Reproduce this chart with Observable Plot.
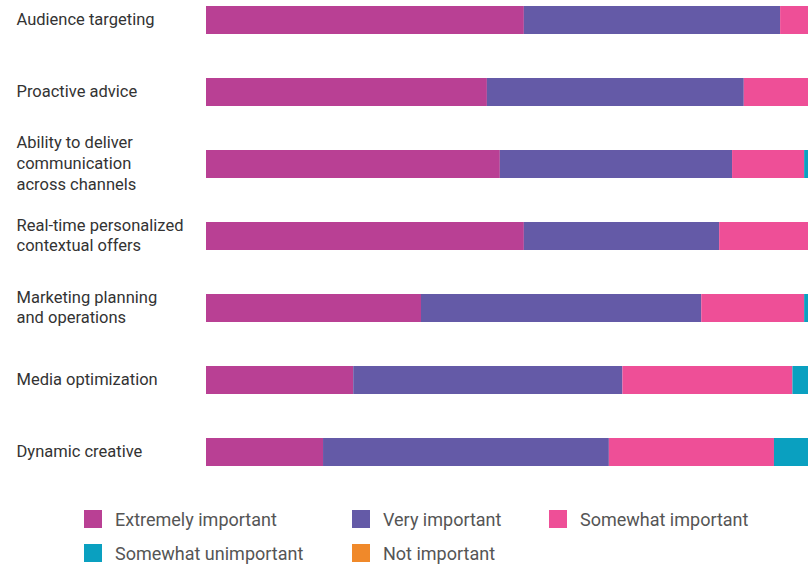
<!DOCTYPE html>
<html>
<head>
<meta charset="utf-8">
<script src="https://cdn.jsdelivr.net/npm/d3@7"></script>
<script src="https://cdn.jsdelivr.net/npm/@observablehq/plot@0.6"></script>
<style>
  html, body { margin: 0; padding: 0; background: #fff; overflow: hidden; }
  #wrap { position: relative; width: 808px; height: 566px; overflow: hidden; font-family: Roboto, sans-serif; }
  .item { position: absolute; display: flex; align-items: center; font-size: 18px; color: #555; white-space: nowrap; }
  .sw { width: 18px; height: 18px; margin-right: 13px; }
</style>
</head>
<body>
<div id="wrap"></div>
<script>
// Categories (top to bottom) and their display labels
const categories = [
  "Audience targeting",
  "Proactive advice",
  "Ability to deliver communication across channels",
  "Real-time personalized contextual offers",
  "Marketing planning and operations",
  "Media optimization",
  "Dynamic creative"
];
const labelLines = [
  "Audience targeting",
  "Proactive advice",
  "Ability to deliver\ncommunication\nacross channels",
  "Real-time personalized\ncontextual offers",
  "Marketing planning\nand operations",
  "Media optimization",
  "Dynamic creative"
];

// Series (percent of respondents)
const seriesNames = ["Extremely important", "Very important", "Somewhat important", "Somewhat unimportant", "Not important"];
const seriesColors = ["#b94094", "#645aa7", "#ee4f97", "#0aa0c0", "#f0892a"];

const extremely     = [51.6, 45.6, 47.7, 51.6, 34.9, 23.9, 19.0];
const very          = [41.6, 41.7, 37.7, 31.7, 45.5, 43.7, 46.4];
const somewhat      = [ 6.8, 12.7, 11.7, 16.7, 16.7, 27.6, 26.8];
const unimportant   = [ 0.0,  0.0,  2.9,  0.0,  2.9,  4.8,  6.0];
const notImportant  = [ 0.0,  0.0,  0.0,  0.0,  0.0,  0.0,  1.8];

const seriesValues = [extremely, very, somewhat, unimportant, notImportant];

const rows = [];
categories.forEach((c, i) => {
  seriesNames.forEach((s, j) => {
    rows.push({category: c, series: s, value: seriesValues[j][i]});
  });
});
const labelRows = categories.map((c, i) => ({category: c, label: labelLines[i]}));

const chart = Plot.plot({
  width: 808,
  height: 490,
  marginLeft: 206,
  marginRight: 0,
  marginTop: 0,
  marginBottom: 0,
  style: {fontFamily: "Roboto, sans-serif", fontSize: "16.5px", overflow: "visible"},
  x: {domain: [0, 100], range: [206, 822], axis: null},
  y: {domain: categories, range: [-16, 488], padding: 0, axis: null},
  color: {domain: seriesNames, range: seriesColors},
  marks: [
    Plot.barX(rows, Plot.stackX({
      x: "value", y: "category", fill: "series",
      order: seriesNames, insetTop: 22, insetBottom: 22
    })),
    Plot.text(labelRows, {
      y: "category", text: "label", frameAnchor: "left",
      textAnchor: "start", dx: -190, dy: -2, lineHeight: 1.25,
      fill: "#333", fontSize: 16.5
    })
  ]
});
const wrap = document.getElementById("wrap");
wrap.appendChild(chart);

// Legend
const legendPos = [[84, 519], [352, 519], [549, 519], [84, 553], [352, 553]];
seriesNames.forEach((name, i) => {
  const it = document.createElement("div");
  it.className = "item";
  it.style.left = legendPos[i][0] + "px";
  it.style.top = (legendPos[i][1] - 11) + "px";
  it.style.height = "22px";
  const sw = document.createElement("div");
  sw.className = "sw";
  sw.style.background = seriesColors[i];
  const tx = document.createElement("span");
  tx.textContent = name;
  it.appendChild(sw);
  it.appendChild(tx);
  wrap.appendChild(it);
});
</script>
</body>
</html>
